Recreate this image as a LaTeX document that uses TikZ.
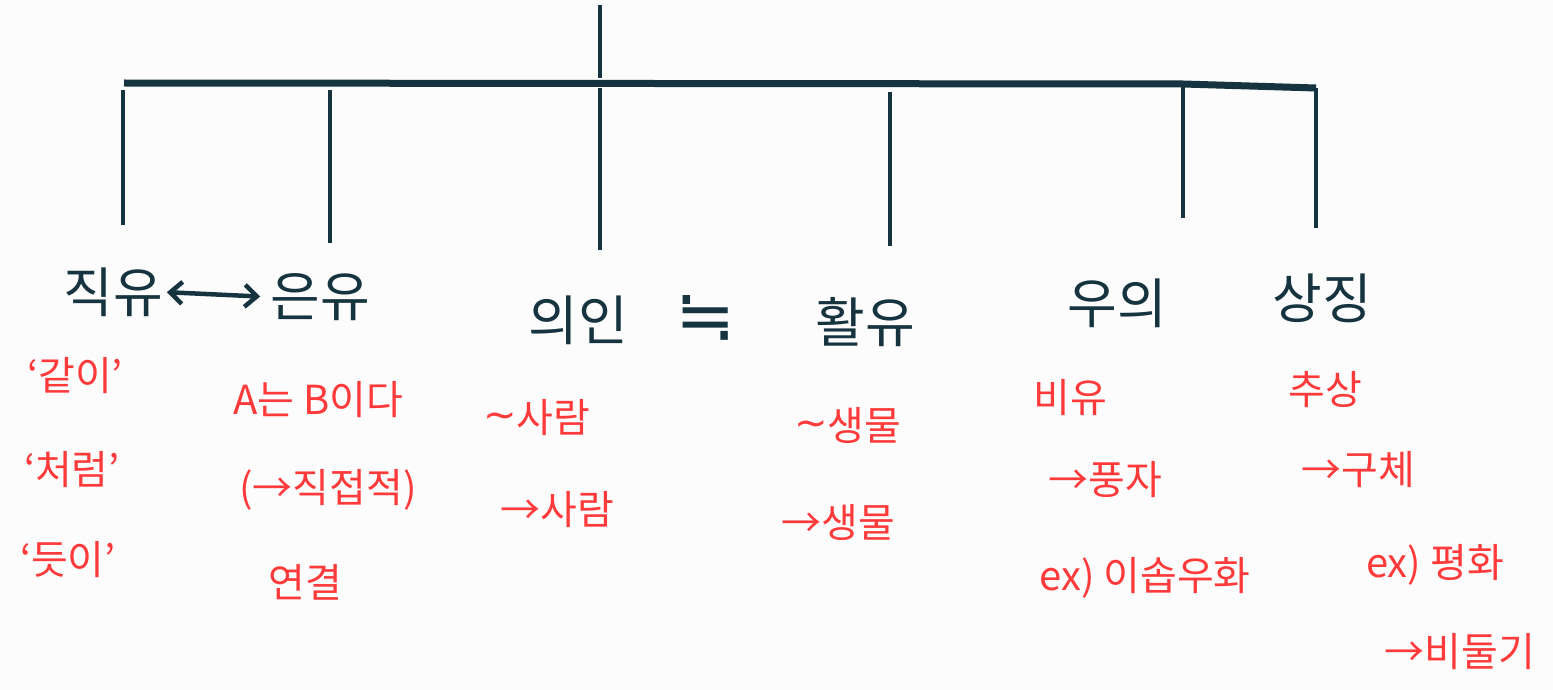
\documentclass[tikz,border=0pt]{standalone}
\usepackage{fontspec}
\usetikzlibrary{arrows.meta}
\newfontfamily\kr{Noto Sans CJK KR}
\newfontfamily\sym{DejaVu Sans}
\definecolor{ink}{HTML}{16343F}
\definecolor{pen}{HTML}{FF3A3A}
\definecolor{paper}{HTML}{FCFCFD}
\begin{document}
\begin{tikzpicture}[x=1pt,y=-1pt,
  stem/.style={ink,line width=4pt},
  bar/.style={ink,line width=7pt},
  term/.style={ink,font=\kr\fontsize{54}{60}\selectfont,inner sep=0pt},
  note/.style={pen,font=\kr\fontsize{40}{46}\selectfont,inner sep=0pt}]
\fill[paper] (0,0) rectangle (1553,690);
\useasboundingbox (0,0) rectangle (1553,690);
% tree lines
\coordinate (top) at (600,5);
\coordinate (mid) at (600,78);
\coordinate (bl) at (124,83);
\coordinate (br) at (1183,84);
\coordinate (bk) at (1316,88);
\draw[stem] (top) -- (mid);
\draw[bar] (bl) -- (br) -- (bk);
\coordinate (a1) at (123,90);  \coordinate (a2) at (123,225);
\coordinate (b1) at (330,90);  \coordinate (b2) at (330,243);
\coordinate (c1) at (600,88);  \coordinate (c2) at (600,250);
\coordinate (d1) at (890,92);  \coordinate (d2) at (890,246);
\coordinate (e1) at (1183,84); \coordinate (e2) at (1183,218);
\coordinate (f1) at (1316,88); \coordinate (f2) at (1316,228);
\draw[stem] (a1) -- (a2);
\draw[stem] (b1) -- (b2);
\draw[stem] (c1) -- (c2);
\draw[stem] (d1) -- (d2);
\draw[stem] (e1) -- (e2);
\draw[stem] (f1) -- (f2);
% terms
\node[term] (jik) at (113,292) {직유};
\node[term] (eun) at (320,297) {은유};
\node[term] (uiin) at (578,320) {의인};
\node[term,font=\sym\fontsize{72}{76}\selectfont] (approx) at (706,318) {≒};
\node[term] (hwal) at (865,322) {활유};
\node[term] (uui) at (1117,303) {우의};
\node[term] (sang) at (1322,298) {상징};
\draw[ink,line width=4.5pt,{Straight Barb[length=12pt,width=22pt]}-{Straight Barb[length=12pt,width=22pt]},shorten <=4pt,shorten >=10pt,line cap=round] (jik.east) -- (eun.west);
% notes
\node[note] (n1) at (75,376) {‘같이’};
\node[note] (n2) at (72,470) {‘처럼’};
\node[note] (n3) at (68,560) {‘듯이’};
\node[note] (m1) at (318,400) {A는 B이다};
\node[note] (m2) at (328,490) {(→직접적)};
\node[note] (m3) at (305,582) {연결};
\node[note] (p1) at (537,418) {\raisebox{4pt}{\sym \~{}}사람};
\node[note] (p2) at (557,510) {→사람};
\node[note] (q1) at (848,425) {\raisebox{4pt}{\sym \~{}}생물};
\node[note] (q2) at (838,522) {→생물};
\node[note] (r1) at (1070,398) {비유};
\node[note] (r2) at (1105,480) {→풍자};
\node[note] (r3) at (1145,578) {ex) 이솝우화};
\node[note] (s1) at (1325,390) {추상};
\node[note] (s2) at (1358,470) {→구체};
\node[note] (s3) at (1435,565) {ex) 평화};
\node[note] (s4) at (1460,652) {→비둘기};
\end{tikzpicture}
\end{document}
